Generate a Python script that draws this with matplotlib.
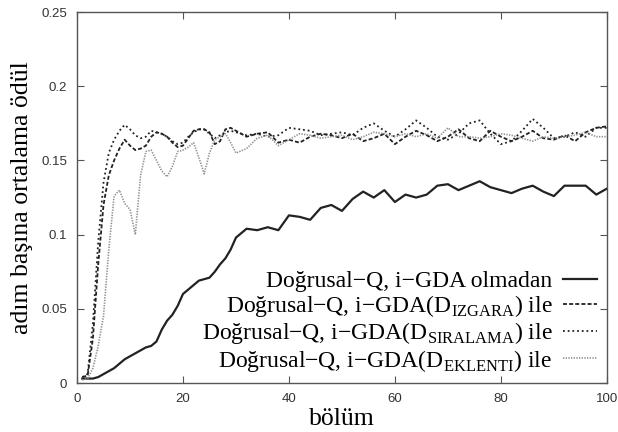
import numpy as np
import matplotlib.pyplot as plt

plt.rcParams['font.family'] = ['Liberation Serif', 'DejaVu Serif']
plt.rcParams['mathtext.fontset'] = 'custom'
plt.rcParams['mathtext.rm'] = 'Liberation Serif'

# bölüm (episode) grid: every episode up to 30, then every second one
bolum = np.concatenate([np.arange(1, 31), np.arange(32, 101, 2)])

olmadan = [0.003, 0.003, 0.003, 0.004, 0.006, 0.008, 0.010, 0.013, 0.016, 0.018,
           0.020, 0.022, 0.024, 0.025, 0.028, 0.036, 0.042, 0.046, 0.052, 0.060,
           0.063, 0.066, 0.069, 0.070, 0.071, 0.075, 0.080, 0.084, 0.090, 0.098,
           0.104, 0.103, 0.105, 0.103, 0.113, 0.112, 0.110, 0.118, 0.120, 0.116,
           0.124, 0.129, 0.125, 0.130, 0.122, 0.127, 0.125, 0.127, 0.133, 0.134,
           0.130, 0.133, 0.136, 0.132, 0.130, 0.128, 0.131, 0.133, 0.129, 0.126,
           0.133, 0.133, 0.133, 0.127, 0.131]

izgara = [0.004, 0.005, 0.030, 0.080, 0.120, 0.140, 0.150, 0.158, 0.164, 0.160,
          0.157, 0.158, 0.160, 0.166, 0.169, 0.168, 0.166, 0.162, 0.159, 0.160,
          0.165, 0.170, 0.171, 0.171, 0.169, 0.161, 0.163, 0.171, 0.172, 0.170,
          0.166, 0.168, 0.169, 0.162, 0.164, 0.162, 0.166, 0.168, 0.167, 0.165,
          0.168, 0.163, 0.165, 0.168, 0.161, 0.166, 0.170, 0.167, 0.163, 0.166,
          0.171, 0.165, 0.163, 0.170, 0.166, 0.163, 0.166, 0.170, 0.165, 0.164,
          0.167, 0.163, 0.169, 0.172, 0.173]

siralama = [0.004, 0.006, 0.040, 0.095, 0.135, 0.155, 0.164, 0.170, 0.174, 0.171,
            0.167, 0.165, 0.166, 0.170, 0.169, 0.168, 0.166, 0.163, 0.161, 0.162,
            0.166, 0.169, 0.171, 0.171, 0.168, 0.165, 0.167, 0.169, 0.170, 0.169,
            0.167, 0.168, 0.166, 0.167, 0.172, 0.171, 0.170, 0.167, 0.168, 0.169,
            0.167, 0.172, 0.175, 0.170, 0.166, 0.171, 0.177, 0.172, 0.166, 0.164,
            0.168, 0.175, 0.177, 0.168, 0.161, 0.163, 0.170, 0.178, 0.172, 0.165,
            0.166, 0.169, 0.166, 0.172, 0.172]

eklenti = [0.002, 0.003, 0.010, 0.025, 0.045, 0.090, 0.126, 0.130, 0.121, 0.117,
           0.100, 0.140, 0.156, 0.157, 0.150, 0.143, 0.139, 0.146, 0.156, 0.157,
           0.159, 0.162, 0.152, 0.141, 0.155, 0.164, 0.166, 0.168, 0.162, 0.155,
           0.158, 0.165, 0.167, 0.160, 0.164, 0.168, 0.167, 0.165, 0.166, 0.167,
           0.164, 0.166, 0.169, 0.168, 0.166, 0.168, 0.166, 0.168, 0.165, 0.172,
           0.166, 0.166, 0.165, 0.166, 0.168, 0.167, 0.165, 0.163, 0.166, 0.165,
           0.166, 0.167, 0.169, 0.166, 0.166]

etiketler = ['Doğrusal−Q, i−GDA olmadan',
             'Doğrusal−Q, i−GDA(D$_{\\mathrm{IZGARA}}$) ile',
             'Doğrusal−Q, i−GDA(D$_{\\mathrm{SIRALAMA}}$) ile',
             'Doğrusal−Q, i−GDA(D$_{\\mathrm{EKLENTI}}$) ile']

y_ticks = [0, 0.05, 0.1, 0.15, 0.2, 0.25]
y_tick_labels = ['0', '0.05', '0.1', '0.15', '0.2', '0.25']

fig = plt.figure(figsize=(6.18, 4.32), dpi=100)
ax = fig.add_axes([0.1246, 0.1134, 0.8574, 0.8586])

ax.plot(bolum, olmadan, color='#222222', lw=1.6, label=etiketler[0])
ax.plot(bolum, izgara, color='#222222', lw=1.3, dashes=(2.2, 1.2), label=etiketler[1])
ax.plot(bolum, siralama, color='#222222', lw=1.3, dashes=(1.0, 1.6), label=etiketler[2])
ax.plot(bolum, eklenti, color='#909090', lw=1.2, dashes=(0.8, 0.8), label=etiketler[3])

ax.set_xlim(0, 100)
ax.set_ylim(0, 0.25)
ax.set_xticks([0, 20, 40, 60, 80, 100])
ax.set_yticks(y_ticks)
ax.set_yticklabels(y_tick_labels)
ax.tick_params(direction='in', top=True, right=True, length=5, width=0.8,
               color='#555555', labelsize=9.5, pad=7)
for lab in ax.get_xticklabels() + ax.get_yticklabels():
    lab.set_family('Liberation Sans')
    lab.set_color('#333333')
for sp in ax.spines.values():
    sp.set_color('#555555')
    sp.set_linewidth(1.0)

ax.set_xlabel('bölüm', fontsize=18.5, labelpad=2)
ax.set_ylabel('adım başına ortalama ödül', fontsize=18.5, labelpad=6)

leg = ax.legend(loc='lower right', frameon=False, markerfirst=False,
                fontsize=17, handlelength=1.45, handletextpad=0.45,
                labelspacing=0.05, borderaxespad=0.0)
for t in leg.get_texts():
    t.set_ha('right')

fig.savefig('out.png', dpi=100)
